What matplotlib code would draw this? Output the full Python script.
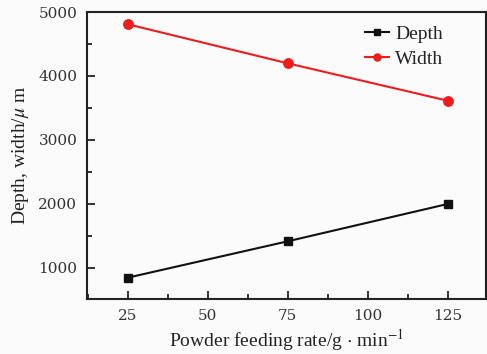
import matplotlib
matplotlib.use("Agg")
import matplotlib.pyplot as plt
from matplotlib.ticker import MultipleLocator

rate = [25, 75, 125]
depth = [849, 1417, 2000]
width = [4808, 4198, 3614]
xticks = [25, 50, 75, 100, 125]
yticks = [1000, 2000, 3000, 4000, 5000]

plt.rcParams['mathtext.fontset'] = 'stix'
bg = '#fbfbfb'
fig = plt.figure(figsize=(4.87, 3.54), dpi=100, facecolor=bg)
ax = fig.add_axes([87/487, 1-299/354, (486-87)/487, (299-12)/354], facecolor=bg)

ax.plot(rate, depth, color='#111111', lw=1.5, marker='s', ms=6, label='Depth')
ax.plot(rate, width, color='#ee1c1c', lw=1.5, marker='o', ms=6.8, label='Width')

ax.set_xlim(12.2, 137)
ax.set_ylim(515, 5000)
ax.set_xticks(xticks)
ax.set_yticks(yticks)
ax.xaxis.set_minor_locator(MultipleLocator(12.5))
ax.yaxis.set_minor_locator(MultipleLocator(500))
ax.tick_params(which='major', direction='in', length=6, width=1.3, labelsize=11, pad=7, color='#222222')
ax.tick_params(which='minor', direction='in', length=3.5, width=1.3, color='#222222')
ax.tick_params(top=False, right=False, which='both')
for lab in ax.get_xticklabels() + ax.get_yticklabels():
    lab.set_family('DejaVu Serif')
    lab.set_color('#333333')
for s in ax.spines.values():
    s.set_linewidth(1.5)
    s.set_color('#222222')

ax.set_xlabel(r'Powder feeding rate/g $\cdot$ min$^{-1}$', family='Liberation Serif', fontsize=14, color='#222222', labelpad=3)
ax.set_ylabel(r'Depth, width/$\mu$ m', family='Liberation Serif', fontsize=14, color='#222222', labelpad=5)

leg = ax.legend(loc='upper left', bbox_to_anchor=(0.697, 0.955), frameon=False,
                prop={'family': 'Liberation Serif', 'size': 14},
                borderaxespad=0, borderpad=0,
                handlelength=1.25, handletextpad=0.3, labelspacing=0.4, markerscale=0.75)
for t in leg.get_texts():
    t.set_color('#222222')

fig.savefig('out.png', dpi=100, facecolor=bg)
